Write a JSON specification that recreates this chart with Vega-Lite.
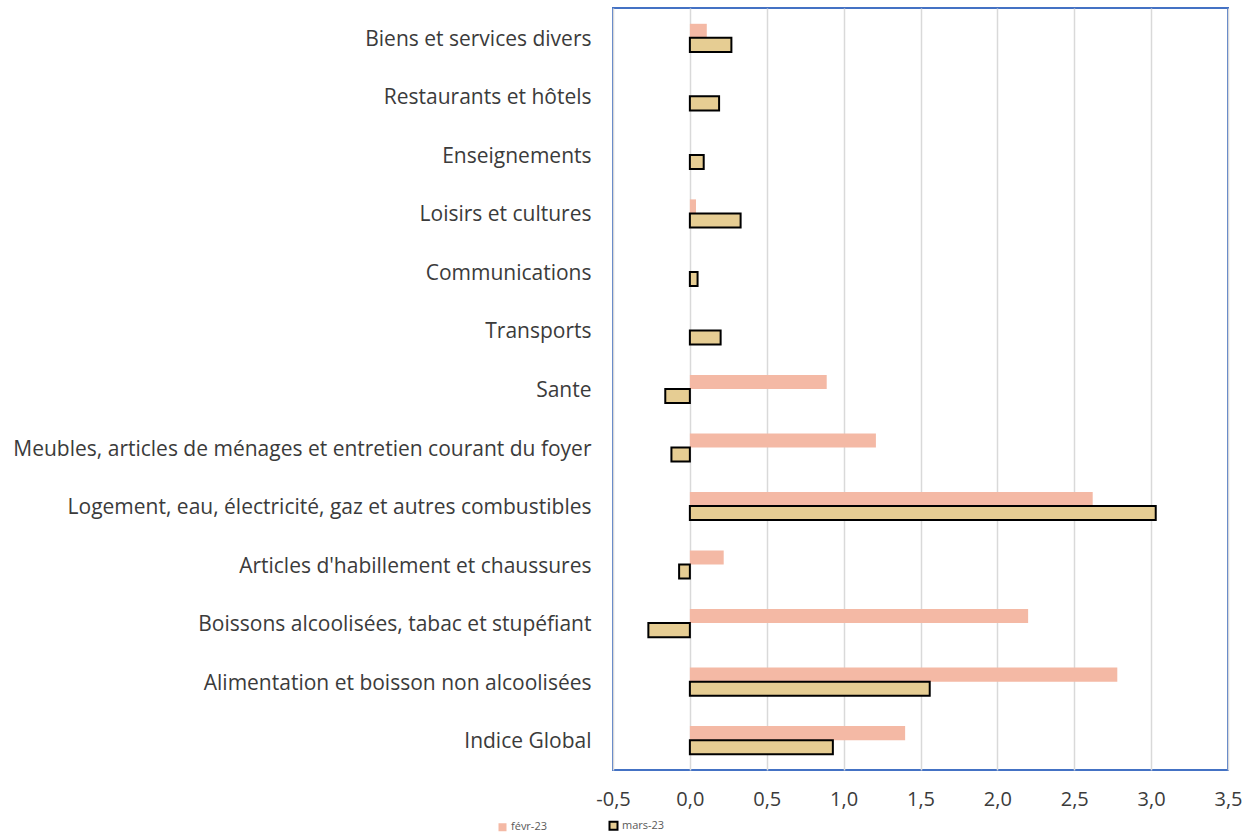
{
  "$schema": "https://vega.github.io/schema/vega-lite/v6.json",
  "autosize": {"type": "none"},
  "width": 615,
  "height": 762,
  "padding": {"left": 613, "top": 8, "right": 30, "bottom": 64},
  "background": "white",
  "config": {
    "view": {"stroke": "#4472C4", "strokeWidth": 2},
    "font": "Open Sans"
  },
  "data": {
    "values": [
      {"cat": "Biens et services divers", "serie": "févr-23", "v": 0.11},
      {"cat": "Biens et services divers", "serie": "mars-23", "v": 0.27},
      {"cat": "Restaurants et hôtels", "serie": "févr-23", "v": 0.0},
      {"cat": "Restaurants et hôtels", "serie": "mars-23", "v": 0.19},
      {"cat": "Enseignements", "serie": "févr-23", "v": 0.0},
      {"cat": "Enseignements", "serie": "mars-23", "v": 0.09},
      {"cat": "Loisirs et cultures", "serie": "févr-23", "v": 0.04},
      {"cat": "Loisirs et cultures", "serie": "mars-23", "v": 0.33},
      {"cat": "Communications", "serie": "févr-23", "v": 0.0},
      {"cat": "Communications", "serie": "mars-23", "v": 0.05},
      {"cat": "Transports", "serie": "févr-23", "v": 0.0},
      {"cat": "Transports", "serie": "mars-23", "v": 0.2},
      {"cat": "Sante", "serie": "févr-23", "v": 0.89},
      {"cat": "Sante", "serie": "mars-23", "v": -0.16},
      {"cat": "Meubles, articles de ménages et entretien courant du foyer", "serie": "févr-23", "v": 1.21},
      {"cat": "Meubles, articles de ménages et entretien courant du foyer", "serie": "mars-23", "v": -0.12},
      {"cat": "Logement, eau, électricité, gaz et autres combustibles", "serie": "févr-23", "v": 2.62},
      {"cat": "Logement, eau, électricité, gaz et autres combustibles", "serie": "mars-23", "v": 3.03},
      {"cat": "Articles d'habillement et chaussures", "serie": "févr-23", "v": 0.22},
      {"cat": "Articles d'habillement et chaussures", "serie": "mars-23", "v": -0.07},
      {"cat": "Boissons alcoolisées, tabac et stupéfiant", "serie": "févr-23", "v": 2.2},
      {"cat": "Boissons alcoolisées, tabac et stupéfiant", "serie": "mars-23", "v": -0.27},
      {"cat": "Alimentation et boisson non alcoolisées", "serie": "févr-23", "v": 2.78},
      {"cat": "Alimentation et boisson non alcoolisées", "serie": "mars-23", "v": 1.56},
      {"cat": "Indice Global", "serie": "févr-23", "v": 1.4},
      {"cat": "Indice Global", "serie": "mars-23", "v": 0.93}
    ]
  },
  "mark": {"type": "bar"},
  "encoding": {
    "y": {
      "field": "cat",
      "type": "nominal",
      "sort": null,
      "scale": {"paddingInner": 0.52, "paddingOuter": 0.27},
      "axis": {
        "title": null,
        "ticks": false,
        "domain": false,
        "labelFontSize": 21,
        "labelColor": "#3B3B3B",
        "labelPadding": 22,
        "labelOffset": 2,
        "labelLimit": 700
      }
    },
    "yOffset": {
      "field": "serie",
      "type": "nominal",
      "sort": ["févr-23", "mars-23"],
      "scale": {"paddingInner": 0, "paddingOuter": 0}
    },
    "x": {
      "field": "v",
      "type": "quantitative",
      "scale": {"domain": [-0.5, 3.5], "nice": false, "zero": false},
      "axis": {
        "title": null,
        "values": [-0.5, 0, 0.5, 1, 1.5, 2, 2.5, 3, 3.5],
        "labelExpr": "replace(replace(format(datum.value, '.1f'), '.', ','), '−', '-')",
        "labelFlush": false,
        "ticks": false,
        "domain": false,
        "grid": true,
        "gridColor": "#D9D9D9",
        "gridWidth": 1.5,
        "labelFontSize": 20,
        "labelColor": "#3B3B3B",
        "labelPadding": 19
      }
    },
    "color": {
      "field": "serie",
      "type": "nominal",
      "scale": {"domain": ["févr-23", "mars-23"], "range": ["#F4B9A5", "#E6CD93"]},
      "legend": {
        "title": null,
        "orient": "none",
        "direction": "horizontal",
        "legendX": -116,
        "legendY": 812,
        "symbolType": "square",
        "symbolSize": 64,
        "symbolOpacity": 1,
        "labelFontSize": 11,
        "labelColor": "#595959",
        "labelOffset": 3,
        "columnPadding": 58
      }
    },
    "stroke": {
      "field": "serie",
      "type": "nominal",
      "scale": {"domain": ["févr-23", "mars-23"], "range": ["#F4B9A5", "#000000"]}
    },
    "strokeWidth": {
      "field": "serie",
      "type": "nominal",
      "scale": {"domain": ["févr-23", "mars-23"], "range": [0, 2]},
      "legend": null
    }
  }
}
